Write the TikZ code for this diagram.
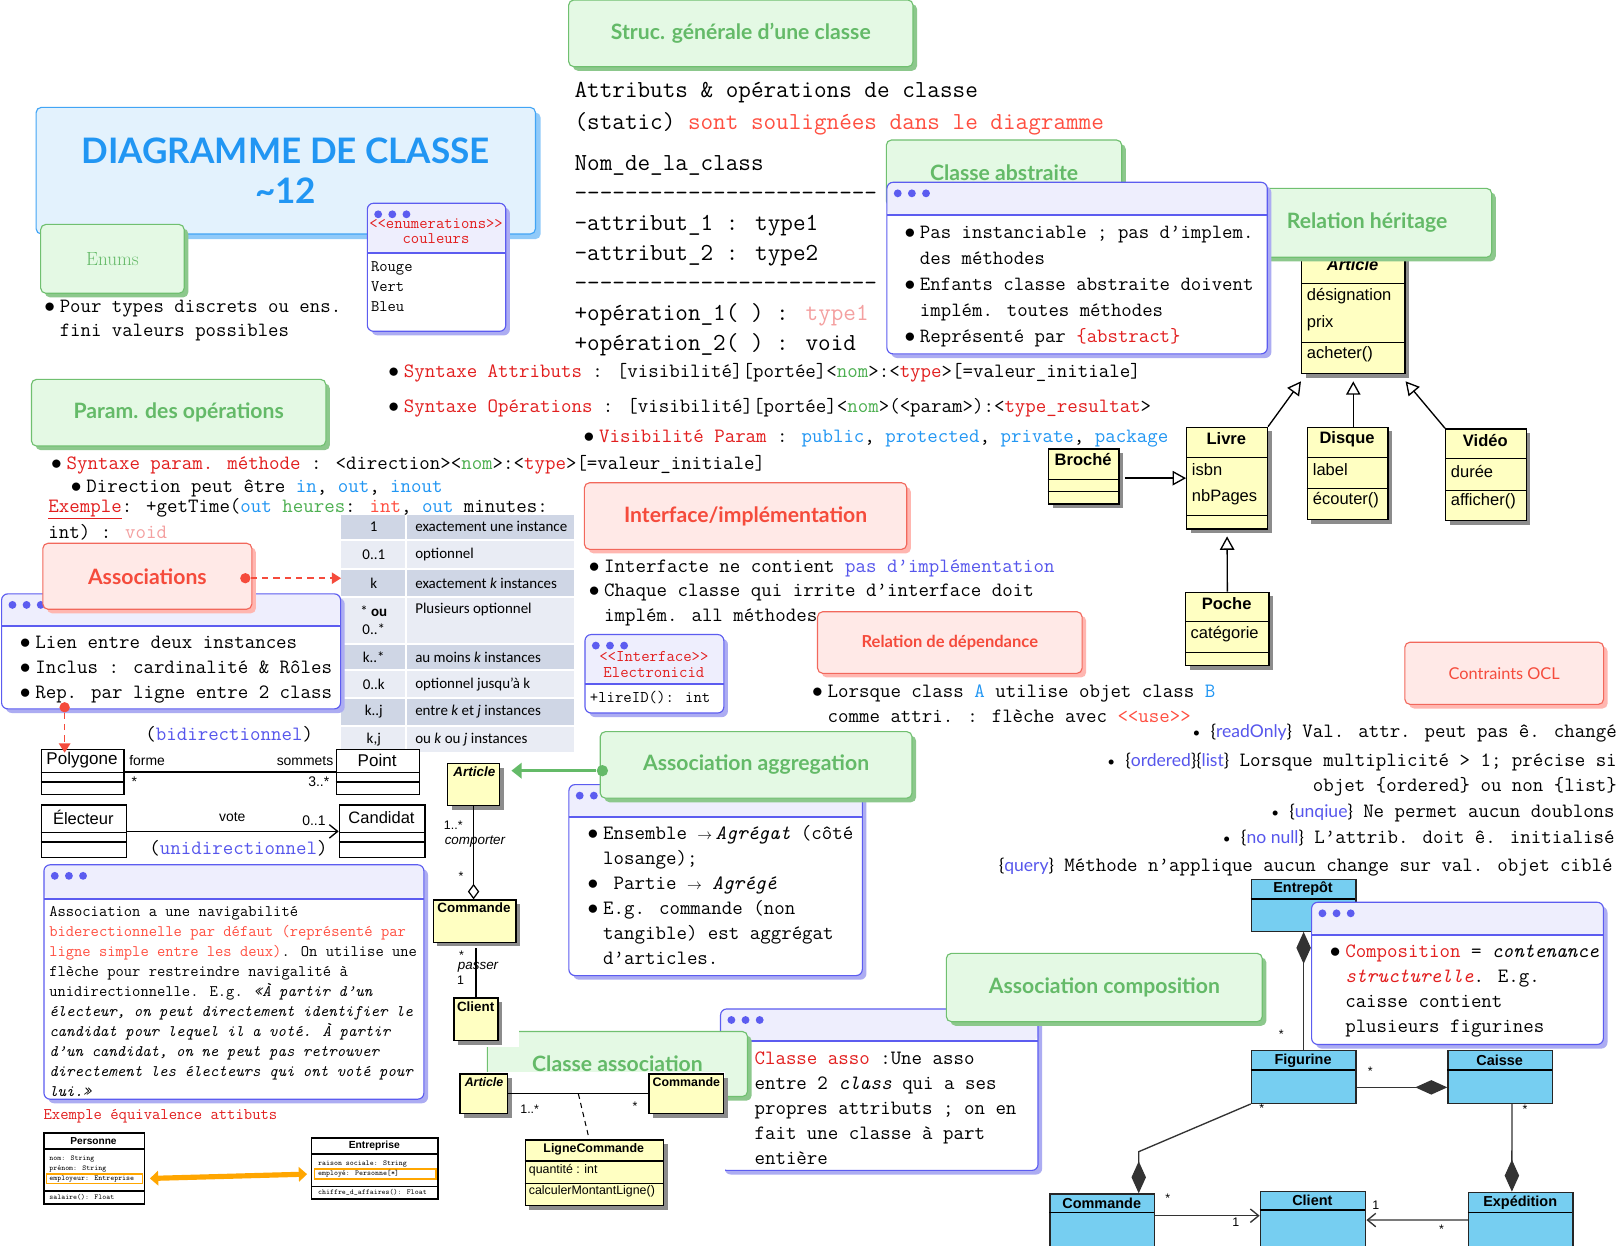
\documentclass[tikz,border=0pt]{standalone}
\usepackage{fontspec}
\newfontfamily\headfont{Lato}
\newfontfamily\umlfont{Liberation Sans}
\newfontfamily\tabfont{Carlito}
\usetikzlibrary{arrows.meta, positioning, shadows}

\definecolor{grnfill}{RGB}{228,249,228}
\definecolor{grnline}{RGB}{112,192,112}
\definecolor{grnshad}{RGB}{140,200,140}
\definecolor{grntext}{RGB}{100,186,104}
\definecolor{redfill}{RGB}{255,233,231}
\definecolor{redline}{RGB}{242,104,92}
\definecolor{redshad}{RGB}{255,182,176}
\definecolor{redtext}{RGB}{245,75,60}
\definecolor{ttlfill}{RGB}{227,242,253}
\definecolor{ttlline}{RGB}{66,165,245}
\definecolor{ttlshad}{RGB}{144,202,249}
\definecolor{ttltext}{RGB}{33,150,243}
\definecolor{cardline}{RGB}{92,92,240}
\definecolor{cardhead}{RGB}{238,238,253}
\definecolor{cardshad}{RGB}{172,172,242}
\definecolor{synred}{RGB}{226,30,30}
\definecolor{softred}{RGB}{255,78,64}
\definecolor{softpink}{RGB}{244,160,160}
\definecolor{nomgreen}{RGB}{76,175,80}
\definecolor{kwblue}{RGB}{33,150,243}
\definecolor{purpblue}{RGB}{86,86,236}
\definecolor{umlyellow}{RGB}{255,255,194}
\definecolor{umlblue}{RGB}{118,206,241}
\definecolor{rowdark}{RGB}{207,214,229}
\definecolor{rowlight}{RGB}{233,236,244}
\definecolor{orangearr}{RGB}{255,166,0}

\newcommand{\bul}{\makebox[15pt][l]{$\bullet$}}
\newcommand{\ind}{\hspace*{15pt}}
\newcommand{\dlt}{<\kern0pt<}
\newcommand{\dgt}{>\kern0pt>}
\newcommand{\dashrow}{\foreach \x in {1,...,24}{-\kern0pt}}
\newcommand{\ocl}[1]{{\headfont\fontsize{17}{20}\selectfont\{\textcolor{purpblue}{#1}\}}}

\tikzset{
  head/.style={rounded corners=5pt, line width=1.1pt, inner sep=0pt, align=center,
    font=\headfont\bfseries\fontsize{20.5}{24}\selectfont},
  greenhead/.style={head, draw=grnline, fill=grnfill, text=grntext,
    drop shadow={shadow xshift=4pt, shadow yshift=-4pt, fill=grnshad, opacity=1}},
  redhead/.style={head, draw=redline, fill=redfill, text=redtext,
    drop shadow={shadow xshift=4pt, shadow yshift=-4pt, fill=redshad, opacity=1}},
  titlebox/.style={head, draw=ttlline, fill=ttlfill, text=ttltext,
    font=\headfont\bfseries\fontsize{34}{38.7}\selectfont,
    drop shadow={shadow xshift=5pt, shadow yshift=-5pt, fill=ttlshad, opacity=1}},
  card/.style={draw=cardline, fill=white, rounded corners=6pt, line width=1.1pt,
    inner sep=0pt, anchor=north west,
    drop shadow={shadow xshift=4pt, shadow yshift=-4pt, fill=cardshad, opacity=1},
    path picture={
      \fill[cardhead] (path picture bounding box.north west) rectangle
        ([yshift=-#1]path picture bounding box.north east);
      \draw[cardline, line width=1.7pt] ([yshift=-#1]path picture bounding box.north west)
        -- ([yshift=-#1]path picture bounding box.north east);
      \foreach \dt in {0,1,2}
        \fill[cardline] ([xshift=10.5+13.7*\dt, yshift=-10.7]path picture bounding box.north west) circle (3.8);
    }},
  mono/.style={font=\ttfamily\fontsize{19.7}{24.2}\selectfont, inner sep=0pt},
  txtblock/.style={mono, align=left, anchor=north west},
  minitxt/.style={font=\ttfamily\fontsize{7.25}{9}\selectfont, inner sep=0pt, anchor=base west},
  uml/.style={draw=black, line width=1.3pt, fill=umlyellow, inner sep=0pt, anchor=north west,
    drop shadow={shadow xshift=4pt, shadow yshift=-4pt, fill=black!45, opacity=1}},
  umlw/.style={draw=black, line width=1.4pt, fill=white, inner sep=0pt, anchor=north west},
  umlb/.style={draw=black!85, line width=1.2pt, fill=umlblue, inner sep=0pt, anchor=north west},
  usep/.style={line width=1.3pt},
  utxt/.style={font=\umlfont\fontsize{16}{18}\selectfont, inner sep=0pt},
  ubold/.style={font=\umlfont\bfseries\fontsize{16}{18}\selectfont, inner sep=0pt},
  usm/.style={font=\umlfont\fontsize{13.5}{16}\selectfont, inner sep=0pt},
  ubsm/.style={font=\umlfont\bfseries\fontsize{13}{15}\selectfont, inner sep=0pt},
  ublue/.style={font=\umlfont\bfseries\fontsize{14}{16}\selectfont, inner sep=0pt},
  lstar/.style={font=\umlfont\fontsize{12}{14}\selectfont, inner sep=0pt},
  tabtxt/.style={font=\tabfont\fontsize{14.5}{17.8}\selectfont, inner sep=0pt, align=center},
  heritarrow/.style={line width=1.3pt, -{Triangle[open, length=13pt, width=14pt]}},
  aggreg/.style={line width=1.2pt, -{Diamond[open, length=15pt, width=11pt]}},
  compo/.style={line width=1.3pt, draw=black!80, -{Diamond[length=31pt, width=14pt]}},
  navarrow/.style={line width=1.3pt, -{Straight Barb[length=8pt, width=13pt]}},
  redarrow/.style={draw=redtext, line width=1.6pt, dash pattern=on 6pt off 5pt,
    -{Triangle[length=9pt, width=11pt]}},
  grnarrow/.style={draw=grntext, line width=2.5pt, -{Triangle[length=10pt, width=15pt]}},
  orgarrow/.style={draw=orangearr, line width=5pt,
    {Triangle[length=8pt, width=14pt]}-{Triangle[length=8pt, width=14pt]}},
  reddot/.style={circle, fill=redtext, inner sep=0pt, minimum size=10pt},
  grndot/.style={circle, fill=grntext, inner sep=0pt, minimum size=11pt},
  hl/.style={draw=orangearr, line width=1.2pt, inner sep=0pt, anchor=north west},
}

\begin{document}
\begin{tikzpicture}[x=1pt, y=-1pt]
\path[use as bounding box, fill=white] (0,0) rectangle (1568,1206);

% titre et enums
\node[titlebox, minimum width=483.6, minimum height=122.6] (title) at (276.8,165.3) {DIAGRAMME DE CLASSE\\\textasciitilde12};
\node[greenhead, font=\rmfamily\fontsize{18.5}{20}\selectfont, minimum width=139, minimum height=66.7] (enums) at (108.9,250.7) {Enums};
\node[card=48, minimum width=134.1, minimum height=124] (enumcard) at (355.2,196.3) {};
\node[font=\ttfamily\fontsize{15.7}{14.9}\selectfont, text=synred, align=center, inner sep=0pt, anchor=north] (enumhd) at (422.3,210.4) {\strut\dlt enumerations\dgt\\couleurs};
\node[txtblock, font=\ttfamily\fontsize{15.6}{19.35}\selectfont] (enumvals) at (359.2,249.4) {\strut Rouge\\Vert\\Bleu};
\node[txtblock, font=\ttfamily\fontsize{19.6}{23.2}\selectfont] (enumtxt) at (42.7,286.6) {\strut\bul Pour types discrets ou ens.\\\ind fini valeurs possibles};

% structure d'une classe
\node[greenhead, minimum width=333.5, minimum height=64.6] (struc) at (717.5,32.3) {Struc. générale d’une classe};
\node[txtblock, font=\ttfamily\fontsize{23.7}{30.6}\selectfont] (attrs) at (556.3,72.8) {\strut Attributs \& opérations de classe\\(static) \textcolor{softred}{sont soulignées dans le diagramme}};
\node[txtblock, font=\ttfamily\fontsize{23.7}{29.05}\selectfont] (proto) at (556.3,144.9) {\strut Nom\_de\_la\_class\\\dashrow\\-attribut\_1 : type1\\-attribut\_2 : type2\\\dashrow\\+opération\_1( ) : \textcolor{softpink}{type1}\\+opération\_2( ) : void};

% heritage
\node[uml, minimum width=100, minimum height=118] (article) at (1260,243) {};
\draw[usep] (1260,274.4) -- (1360,274.4) (1260,331.5) -- (1360,331.5);
\node[ubold, font=\umlfont\bfseries\itshape\fontsize{16}{18}\selectfont] (articlenm) at (1310,256.7) {Article};
\node[utxt, anchor=west] (articlea1) at (1265.5,286.7) {désignation};
\node[utxt, anchor=west] (articlea2) at (1265.5,313.1) {prix};
\node[utxt, anchor=west] (articlem1) at (1265.5,343.2) {acheter()};

\node[uml, minimum width=78.1, minimum height=98.5] (livre) at (1148.7,413.2) {};
\draw[usep] (1148.7,443) -- (1226.8,443) (1148.7,499.4) -- (1226.8,499.4);
\node[ubold] (livrenm) at (1187.7,424.5) {Livre};
\node[utxt, anchor=west] (livrea1) at (1154.2,455.2) {isbn};
\node[utxt, anchor=west] (livrea2) at (1154.2,481.7) {nbPages};

\node[uml, minimum width=78.2, minimum height=89.5] (disque) at (1265.5,413.2) {};
\draw[usep] (1265.5,443) -- (1343.7,443) (1265.5,473) -- (1343.7,473);
\node[ubold] (disquenm) at (1304.6,425) {Disque};
\node[utxt, anchor=west] (disquea1) at (1271.3,455.2) {label};
\node[utxt, anchor=west] (disquem1) at (1271.3,484.3) {écouter()};

\node[uml, minimum width=78, minimum height=88.8] (video) at (1399.5,414.8) {};
\draw[usep] (1399.5,444.2) -- (1477.5,444.2) (1399.5,475.2) -- (1477.5,475.2);
\node[ubold] (videonm) at (1438.5,426.5) {Vidéo};
\node[utxt, anchor=west] (videoa1) at (1405,456.8) {durée};
\node[utxt, anchor=west] (videom1) at (1405,485.9) {afficher()};

\node[uml, minimum width=68.4, minimum height=53.3] (broche) at (1014.7,434.2) {};
\draw[usep] (1014.7,464.2) -- (1083.1,464.2) (1014.7,476.2) -- (1083.1,476.2);
\node[ubold] (brochenm) at (1049,445.5) {Broché};

\node[uml, minimum width=80.7, minimum height=71] (poche) at (1147.7,573) {};
\draw[usep] (1147.7,602.1) -- (1228.4,602.1) (1147.7,632.1) -- (1228.4,632.1);
\node[ubold] (pochenm) at (1188,584.3) {Poche};
\node[utxt, anchor=west] (pochea1) at (1153,614) {catégorie};

\draw[heritarrow] (livre.north east) -- ([yshift=-7]article.south west);
\draw[heritarrow] (disque.north -| article.south) -- ([yshift=-7]article.south);
\draw[heritarrow] (video.north west) -- ([yshift=-7]article.south east);
\draw[heritarrow, shorten <=5pt] (broche.east |- livre.west) -- (livre.west);
\draw[heritarrow] (poche.north) -- ([yshift=-6.5]livre.south);

\node[greenhead, minimum width=241.4, minimum height=66.8] (herit) at (1324,215.8) {Relation héritage};

% classe abstraite
\node[greenhead, minimum width=228, minimum height=64] (abshd) at (972.4,167.6) {Classe abstraite};
\node[card=32, minimum width=368.4, minimum height=166.2] (abscard) at (858.4,176) {};
\node[txtblock, font=\ttfamily\fontsize{19.6}{25.3}\selectfont] (absbody) at (875.8,212.9) {\strut\bul Pas instanciable ; pas d’implem.\\\ind des méthodes\\\bul Enfants classe abstraite doivent\\\ind implém. toutes méthodes\\\bul Représenté par \textcolor{synred}{\{abstract\}}};

% syntaxe
\node[mono, anchor=base west] (synattr) at (376,365.8) {\bul\textcolor{synred}{Syntaxe Attributs} : [visibilité][portée]<\textcolor{nomgreen}{nom}>:<\textcolor{synred}{type}>[=valeur\_initiale]};
\node[mono, anchor=base west] (synop) at (376,399.7) {\bul\textcolor{synred}{Syntaxe Opérations} : [visibilité][portée]<\textcolor{nomgreen}{nom}>(<param>):<\textcolor{synred}{type\_resultat}>};
\node[mono, anchor=base west] (visi) at (565,428.3) {\bul\textcolor{synred}{Visibilité Param} : \textcolor{kwblue}{public}, \textcolor{kwblue}{protected}, \textcolor{kwblue}{private}, \textcolor{kwblue}{package}};

% parametres
\node[greenhead, minimum width=285.1, minimum height=64.6] (param) at (173,399.7) {Param. des opérations};
\node[mono, anchor=base west] (parsyn) at (49.4,454.5) {\bul\textcolor{synred}{Syntaxe param. méthode} : <direction><\textcolor{nomgreen}{nom}>:<\textcolor{synred}{type}>[=valeur\_initiale]};
\node[mono, anchor=base west] (pardir) at (68.5,476.5) {\bul Direction peut être \textcolor{kwblue}{in}, \textcolor{kwblue}{out}, \textcolor{kwblue}{inout}};
\node[mono, anchor=base west] (parex) at (46.7,496.5) {\textcolor{synred}{\underline{Exemple}}: +getTime(\textcolor{kwblue}{out} \textcolor{nomgreen}{heures}: \textcolor{softred}{int}, \textcolor{kwblue}{out} minutes:};
\node[mono, anchor=base west] (parex2) at (46.7,521.4) {int) : \textcolor{softpink}{void}};

% multiplicites
\foreach \ya/\yb/\fc/\la/\lb [count=\rw] in {
  497.5/523/rowdark/1/{exactement une instance},
  523/551/rowlight/0..1/optionnel,
  551/578.5/rowdark/k/{exactement \textit{k} instances},
  578.5/623.5/rowlight/{* \textbf{ou}\\0..*}/{Plusieurs optionnel\\\strut},
  623.5/649/rowdark/k..*/{au moins \textit{k} instances},
  649/676/rowlight/0..k/{optionnel jusqu’à k},
  676/703/rowdark/k..j/{entre \textit{k} et \textit{j} instances},
  703/729/rowlight/{k,j}/{ou \textit{k} ou \textit{j} instances}}
{
  \fill[\fc] (330.5,\ya+0.8) rectangle (392.5,\yb-0.8);
  \fill[\fc] (394.5,\ya+0.8) rectangle (556,\yb-0.8);
  \node[tabtxt] (mult\rw) at (362,{(\ya+\yb)/2}) {\la};
  \node[tabtxt, anchor=west, align=left] (desc\rw) at (402,{(\ya+\yb)/2}) {\lb};
}

% associations
\node[card=31.4, minimum width=328.3, minimum height=111.4] (assoccard) at (1,574.6) {};
\node[txtblock] (assocbody) at (19,611) {\strut\bul Lien entre deux instances\\\bul Inclus : cardinalité \& Rôles\\\bul Rep. par ligne entre 2 class};
\node[redhead, minimum width=202.4, minimum height=63.9] (assoc) at (142.7,558.1) {Associations};
\node[reddot] (assocdot) at (237.6,560) {};
\coordinate (tabedge) at (330.3,560);
\draw[redarrow] (assocdot) -- (tabedge);

\node[mono, anchor=base] (bidir) at (222,717) {(\textcolor{purpblue}{bidirectionnel})};
\node[umlw, minimum width=80, minimum height=44] (polygone) at (39.4,725) {};
\draw[usep] (39.4,748) -- (119.4,748) (39.4,757.5) -- (119.4,757.5);
\node[utxt, font=\umlfont\fontsize{16.5}{18}\selectfont] (polygonenm) at (79.4,736.5) {Polygone};
\node[umlw, minimum width=80.5, minimum height=44] (point) at (325,725) {};
\draw[usep] (325,748) -- (405.5,748) (325,757.5) -- (405.5,757.5);
\node[utxt, font=\umlfont\fontsize{16.5}{18}\selectfont] (pointnm) at (365.2,736.5) {Point};
\draw[line width=1.5pt] (polygone.east) -- (point.west);
\node[usm, anchor=west] (forme) at (125,737) {forme};
\node[usm, anchor=east] (sommets) at (323,737) {sommets};
\node[usm] (pstar) at (130,757) {*};
\node[usm, anchor=east] (pmult) at (319,757) {3..*};
\node[reddot] (repdot) at (62.6,685) {};
\draw[redarrow] (repdot) -- ([yshift=-4]repdot |- polygone.north);

\node[umlw, minimum width=82.6, minimum height=51] (electeur) at (39.4,779) {};
\draw[usep] (39.4,806) -- (122,806) (39.4,815.5) -- (122,815.5);
\node[utxt] (electeurnm) at (80.7,792) {Électeur};
\node[umlw, minimum width=83, minimum height=51] (candidat) at (328,779) {};
\draw[usep] (328,806) -- (411,806) (328,815.5) -- (411,815.5);
\node[utxt] (candidatnm) at (369.5,792) {Candidat};
\draw[navarrow] (electeur.east) -- (candidat.west);
\node[usm] (vote) at (225,791) {vote};
\node[usm] (cmult) at (304,795) {0..1};
\node[mono, anchor=base] (unidir) at (231,827.8) {(\textcolor{purpblue}{unidirectionnel})};

% navigabilite
\node[card=33, minimum width=368, minimum height=227] (navcard) at (42,837) {};
\node[txtblock, font=\ttfamily\fontsize{15.6}{19.37}\selectfont] (navbody) at (47.5,874.1) {\strut Association a une navigabilité\\
\textcolor{softred}{biderectionnelle par défaut (représenté par}\\
\textcolor{softred}{ligne simple entre les deux)}. On utilise une\\
flèche pour restreindre navigalité à\\
unidirectionnelle. E.g. \textit{«À partir d’un}\\
\textit{électeur, on peut directement identifier le}\\
\textit{candidat pour lequel il a voté. À partir}\\
\textit{d’un candidat, on ne peut pas retrouver}\\
\textit{directement les électeurs qui ont voté pour}\\
\textit{lui.»}};

% equivalence attributs
\node[font=\ttfamily\fontsize{15.7}{18}\selectfont, text=synred, anchor=base west, inner sep=0pt] (exeq) at (42,1083.9) {Exemple équivalence attibuts};
\node[umlw, line width=1.2pt, minimum width=97.2, minimum height=68.7] (personne) at (42,1096.7) {};
\draw[line width=1.1pt] (42,1112.8) -- (139.2,1112.8) (42,1153.5) -- (139.2,1153.5);
\node[font=\umlfont\bfseries\fontsize{9.8}{11}\selectfont, inner sep=0pt] (personnenm) at (90.6,1105) {Personne};
\node[minitxt] (pers1) at (47.6,1124.2) {nom: String};
\node[minitxt] (pers2) at (47.6,1133.6) {prénom: String};
\node[hl, minimum width=93, minimum height=9] (emp1) at (44.5,1136.4) {};
\node[minitxt] (pers3) at (47.6,1143) {employeur: Entreprise};
\node[minitxt] (pers4) at (47.6,1161.4) {salaire(): Float};

\node[umlw, line width=1.2pt, minimum width=122.4, minimum height=59.1] (entreprise) at (301.3,1101.5) {};
\draw[line width=1.1pt] (301.3,1117.7) -- (423.7,1117.7) (301.3,1149.3) -- (423.7,1149.3);
\node[font=\umlfont\bfseries\fontsize{10}{11}\selectfont, inner sep=0pt] (entreprisenm) at (362.5,1110.2) {Entreprise};
\node[minitxt] (entr1) at (307.9,1128.6) {raison sociale: String};
\node[hl, minimum width=117.6, minimum height=9.7] (emp2) at (304,1131.5) {};
\node[minitxt] (entr2) at (307.9,1138.6) {employé: Personne[*]};
\node[minitxt] (entr3) at (307.9,1156.6) {chiffre\_d\_affaires(): Float};
\draw[orgarrow, shorten <=6.5pt, shorten >=6.6pt] (emp1.east) -- (emp2.west);

% interface
\node[redhead, minimum width=312.2, minimum height=64.5] (interf) at (722.1,499.8) {Interface/implémentation};
\node[txtblock, font=\ttfamily\fontsize{19.7}{23.7}\selectfont] (intbody) at (570,537.4) {\strut\bul Interfacte ne contient \textcolor{purpblue}{pas d’implémentation}\\\bul Chaque classe qui irrite d’interface doit\\\ind implém. all méthodes};
\node[card=47.8, minimum width=134.5, minimum height=76] (intcard) at (566,614) {};
\node[font=\ttfamily\fontsize{15.8}{15.5}\selectfont, text=synred, align=center, inner sep=0pt, anchor=north] (inthd) at (633.3,629.8) {\strut\dlt Interface\dgt\\Electronicid};
\node[font=\ttfamily\fontsize{15.8}{18}\selectfont, inner sep=0pt, anchor=base west] (intop) at (571.1,680) {+lireID(): int};

% dependance
\node[redhead, font=\headfont\bfseries\fontsize{16}{18}\selectfont, minimum width=256.2, minimum height=59.7] (depend) at (919.9,622.3) {Relation de dépendance};
\node[txtblock, font=\ttfamily\fontsize{19.7}{24.9}\selectfont] (depbody) at (786.4,657.6) {\strut\bul Lorsque class \textcolor{kwblue}{A} utilise objet class \textcolor{kwblue}{B}\\\ind comme attri. : flèche avec \textcolor{softred}{\dlt use\dgt}};

% OCL
\node[redhead, font=\headfont\fontsize{15.8}{18}\selectfont, minimum width=192.5, minimum height=60.2] (oclhd) at (1456.8,652.1) {Contraints OCL};
\node[mono, anchor=base east] (ocl1) at (1566,714.4) {{\headfont\fontsize{13}{13}\selectfont•}\ \ocl{readOnly} Val. attr. peut pas ê. changé};
\node[mono, anchor=base east] (ocl2) at (1566,742.8) {{\headfont\fontsize{13}{13}\selectfont•}\ \ocl{ordered}\ocl{list} Lorsque multiplicité > 1; précise si};
\node[mono, anchor=base east] (ocl3) at (1566,766.7) {objet \{ordered\} ou non \{list\}};
\node[mono, anchor=base east] (ocl4) at (1564,791.9) {{\headfont\fontsize{13}{13}\selectfont•}\ \ocl{unqiue} Ne permet aucun doublons};
\node[mono, anchor=base east] (ocl5) at (1564,817.1) {{\headfont\fontsize{13}{13}\selectfont•}\ \ocl{no null} L’attrib. doit ê. initialisé};
\node[mono, anchor=base east] (ocl6) at (1562,843.6) {\ocl{query} Méthode n’applique aucun change sur val. objet ciblé};

% aggregation
\node[card=31.7, minimum width=284.2, minimum height=185] (aggcard) at (550.4,759.3) {};
\node[txtblock] (aggbody) at (569,795.9) {\strut\bul Ensemble $\scriptstyle\rightarrow$\,\textit{Agrégat} (côté\\\ind losange);\\\bul\ Partie $\scriptstyle\rightarrow$ \textit{Agrégé}\\\bul E.g. commande (non\\\ind tangible) est aggrégat\\\ind d’articles.};
\node[greenhead, minimum width=302, minimum height=64.4] (aggr) at (732.3,740.8) {Association aggregation};

% classe association
\node[card=30.7, minimum width=307.5, minimum height=156.4] (asscard) at (697.3,976.6) {};
\node[txtblock] (assbody) at (730.6,1013.9) {\strut\textcolor{synred}{Classe asso} :Une asso\\entre 2 \textit{class} qui a ses\\propres attributs ; on en\\fait une classe à part\\entière};
\node[greenhead, minimum width=306, minimum height=66.2] (comphd) at (1069.5,956.4) {Association composition};
\node[greenhead, minimum width=252, minimum height=63] (clsasso) at (598,1030.5) {Classe association};
\fill[white] (428,990) rectangle (502.5,1014);
\fill[white] (438,1038) rectangle (702,1172);

% colonne UML du milieu
\node[uml, minimum width=50, minimum height=41] (art2) at (433,738.7) {};
\node[ubsm, font=\umlfont\bfseries\itshape\fontsize{13}{15}\selectfont] (art2nm) at (459.4,747.4) {Article};
\node[uml, minimum width=80, minimum height=41] (cmd2) at (419,871) {};
\node[ubsm] (cmd2nm) at (459,879.5) {Commande};
\node[uml, minimum width=42.6, minimum height=41] (cli2) at (439,966) {};
\node[ubsm] (cli2nm) at (460.7,975) {Client};
\draw[aggreg] (art2.south) -- (art2.south |- cmd2.north);
\draw[line width=1.2pt, shorten <=5pt] (cli2.north |- cmd2.south) -- (cli2.north);
\node[lstar] (m1) at (439,799) {1..*};
\node[lstar, font=\umlfont\itshape\fontsize{13}{14}\selectfont] (m2) at (460,815) {comporter};
\node[lstar] (m3) at (446.5,848.5) {*};
\node[lstar] (m4) at (447,925) {*};
\node[lstar, font=\umlfont\itshape\fontsize{13}{14}\selectfont] (m5) at (463,937) {passer};
\node[lstar] (m6) at (446,949.5) {1};

\node[uml, minimum width=46, minimum height=38.5] (art3) at (445,1039.5) {};
\node[ubsm, font=\umlfont\bfseries\itshape\fontsize{12}{14}\selectfont] (art3nm) at (468.8,1047.6) {Article};
\node[uml, minimum width=72, minimum height=38.5] (cmd3) at (628,1039.5) {};
\node[ubsm, font=\umlfont\bfseries\fontsize{12}{14}\selectfont] (cmd3nm) at (664.7,1048) {Commande};
\draw[line width=1.2pt] (art3.east) -- coordinate (amid) (cmd3.west);
\node[lstar] (m7) at (513,1074) {1..*};
\node[lstar] (m8) at (615,1071) {*};
\node[uml, minimum width=134, minimum height=63.6] (ligne) at (508,1103.4) {};
\draw[usep] (508,1124.4) -- (642,1124.4) (508,1146) -- (642,1146);
\node[ubsm, font=\umlfont\bfseries\fontsize{12}{14}\selectfont] (lignenm) at (575,1112.8) {LigneCommande};
\node[lstar, anchor=west] (lignea1) at (512,1133.1) {quantité : int};
\node[lstar, anchor=west] (lignem1) at (512,1154.1) {calculerMontantLigne()};
\draw[line width=1pt, dash pattern=on 5pt off 4pt] (amid) -- ([xshift=-5]ligne.north);

\node[grndot] (aggdot) at (583.4,746.4) {};
\draw[grnarrow, shorten >=11pt] (aggdot) -- (aggdot -| art2.east);

% composition
\node[umlb, minimum width=101.3, minimum height=50] (entrepot) at (1211.3,851.3) {};
\draw[usep] (1211.3,870.7) -- (1312.6,870.7);
\node[ublue] (entrepotnm) at (1262,861) {Entrepôt};
\node[umlb, minimum width=101.3, minimum height=51] (figurine) at (1211.3,1017) {};
\draw[usep] (1211.3,1036.3) -- (1312.6,1036.3);
\node[ublue] (figurinenm) at (1262,1027.3) {Figurine};
\node[umlb, minimum width=101.4, minimum height=51] (caisse) at (1401.7,1017) {};
\draw[usep] (1401.7,1036.3) -- (1503.1,1036.3);
\node[ublue] (caissenm) at (1452.4,1027.3) {Caisse};
\node[umlb, minimum width=101.3, minimum height=62] (commande) at (1016.3,1155.7) {};
\draw[usep] (1016.3,1174.5) -- (1117.6,1174.5);
\node[ublue] (commandenm) at (1067,1165.4) {Commande};
\node[umlb, minimum width=102.2, minimum height=62] (client) at (1220,1153.2) {};
\draw[usep] (1220,1171.9) -- (1322.2,1171.9);
\node[ublue] (clientnm) at (1271,1162.8) {Client};
\node[umlb, minimum width=101.3, minimum height=62] (expedition) at (1421.6,1154.1) {};
\draw[usep] (1421.6,1174.2) -- (1522.9,1174.2);
\node[ublue] (expeditionnm) at (1472.3,1164.5) {Expédition};

\draw[compo] (figurine.north) -- (entrepot.south);
\draw[compo] ([yshift=-10]figurine.east) -- ([yshift=-10]caisse.west);
\draw[compo] (figurine.south west) -- ([xshift=35.3, yshift=40.3]commande.north) -- ([xshift=35.3]commande.north);
\draw[compo] ([xshift=11.3]caisse.south) -- ([xshift=-8.6]expedition.north);
\draw[navarrow, draw=black!80] ([yshift=-21.7]commande.north east) -- ([yshift=-24.2]client.north west);
\draw[navarrow, draw=black!80] ([yshift=-27.5]expedition.north west) -- ([yshift=-28.4]client.north east);
\node[lstar] (c1) at (1241,1001.7) {*};
\node[lstar] (c2) at (1327,1037) {*};
\node[lstar] (c3) at (1222,1073.4) {*};
\node[lstar] (c4) at (1477,1074.4) {*};
\node[lstar] (c5) at (1131,1160) {*};
\node[lstar] (c6) at (1196.8,1183.8) {1};
\node[lstar] (c7) at (1332.5,1167.7) {1};
\node[lstar] (c8) at (1396,1190.6) {*};

\node[card=31.6, minimum width=282.6, minimum height=137.7] (compcard) at (1269.7,873.3) {};
\node[txtblock] (compbody) at (1287.7,910.6) {\strut\bul\textcolor{synred}{Composition} = \textit{contenance}\\\ind\textcolor{synred}{\textit{structurelle}}. E.g.\\\ind caisse contient\\\ind plusieurs figurines};

\end{tikzpicture}
\end{document}
